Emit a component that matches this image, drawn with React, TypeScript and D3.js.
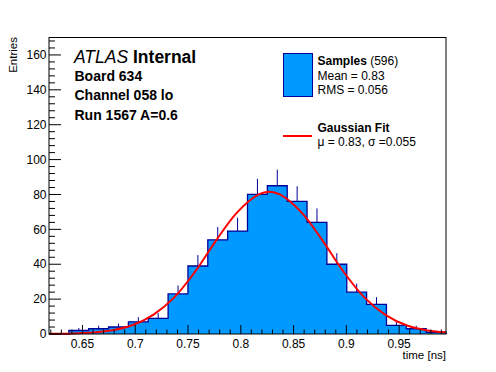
import { scaleLinear, range, area, line, curveStepAfter, curveCatmullRom } from 'd3'

// Timing histogram with a gaussian fit, ROOT/ATLAS style.
const X_MIN = 0.6183
const X_MAX = 0.9944
const Y_MAX = 170

// entries per bin, 20 equal bins over [X_MIN, X_MAX]
const binCounts = [0, 2, 3, 4, 7, 9, 23, 39, 54, 59, 80, 85, 76, 64, 40, 24, 17, 5, 3, 1]

// gaussian fit curve
const fitX = [0.6183, 0.647, 0.677, 0.697, 0.717, 0.737, 0.757, 0.777, 0.797, 0.817, 0.827, 0.837, 0.857, 0.877, 0.897, 0.917, 0.937, 0.957, 0.977, 0.9944]
const fitY = [0.1, 0.4, 2, 5, 11, 21, 36, 54, 70, 80, 81.6, 80, 70, 54, 36, 21, 11, 5, 2, 0.9]

const xMajor = [0.65, 0.7, 0.75, 0.8, 0.85, 0.9, 0.95]
const yMajor = [0, 20, 40, 60, 80, 100, 120, 140, 160]

const infoLines = ['Board 634', 'Channel 058 lo', 'Run 1567 A=0.6']

const FONT = '"Liberation Sans", Arial, Helvetica, sans-serif'
const FILL = '#0099ff'
const EDGE = '#000099'

export default function App() {
  const m = { left: 49, right: 446, top: 37.5, bottom: 334 }
  const x = scaleLinear().domain([X_MIN, X_MAX]).range([m.left, m.right])
  const y = scaleLinear().domain([0, Y_MAX]).range([m.bottom, m.top])

  const bw = (X_MAX - X_MIN) / binCounts.length
  const pts: [number, number][] = binCounts.map((c, i) => [X_MIN + i * bw, c])
  pts.push([X_MAX, binCounts[binCounts.length - 1]])

  const fillPath = area<[number, number]>()
    .x((d) => x(d[0]))
    .y0(y(0))
    .y1((d) => y(d[1]))
    .curve(curveStepAfter)(pts)

  const edgePts: [number, number][] = [[X_MIN, 0], ...pts, [X_MAX, 0]]
  const edgePath = line<[number, number]>()
    .x((d) => x(d[0]))
    .y((d) => y(d[1]))
    .curve(curveStepAfter)(edgePts)

  const fitPath = line<number>()
    .x((d) => x(d))
    .y((_, i) => y(fitY[i]))
    .curve(curveCatmullRom)(fitX)

  const yMinor = range(0, Y_MAX + 0.1, 4).filter((v) => v % 20 !== 0)
  const xMinor = range(62, 100).map((v) => v / 100).filter((v) => Math.round(v * 100) % 5 !== 0 && v <= X_MAX)

  return (
    <svg
      width={496}
      height={372}
      style={{ position: 'absolute', left: 0, top: 0, background: '#fff' }}
      fontFamily={FONT}
    >
      <rect x={0} y={0} width={496} height={372} fill="#fff" />

      {/* error bars first, the fill hides their lower half */}
      {binCounts.map((c, i) =>
        c > 0 ? (
          <line
            key={i}
            x1={x(X_MIN + (i + 0.5) * bw)}
            x2={x(X_MIN + (i + 0.5) * bw)}
            y1={y(c - Math.sqrt(c))}
            y2={y(c + Math.sqrt(c))}
            stroke={EDGE}
            strokeWidth={1}
          />
        ) : null,
      )}
      {fillPath && <path d={fillPath} fill={FILL} />}
      {edgePath && <path d={edgePath} fill="none" stroke={EDGE} strokeWidth={1.3} />}
      {fitPath && <path d={fitPath} fill="none" stroke="#ff0000" strokeWidth={2} />}

      {/* frame + ticks */}
      <rect x={m.left} y={m.top} width={m.right - m.left} height={m.bottom - m.top} fill="none" stroke="#000" strokeWidth={1} />
      {yMajor.map((v) => (
        <g key={v}>
          <line x1={m.left} x2={m.left + 12} y1={y(v)} y2={y(v)} stroke="#000" />
          <text x={46.5} y={y(v)} dy="0.35em" textAnchor="end" fontSize={12}>
            {v}
          </text>
        </g>
      ))}
      {yMinor.map((v) => (
        <line key={v} x1={m.left} x2={m.left + 6} y1={y(v)} y2={y(v)} stroke="#000" />
      ))}
      {xMajor.map((v) => (
        <g key={v}>
          <line x1={x(v)} x2={x(v)} y1={m.bottom} y2={m.bottom - 9} stroke="#000" />
          <text x={x(v)} y={347.5} textAnchor="middle" fontSize={12}>
            {v}
          </text>
        </g>
      ))}
      {xMinor.map((v) => (
        <line key={v} x1={x(v)} x2={x(v)} y1={m.bottom} y2={m.bottom - 4.5} stroke="#000" />
      ))}

      <text x={446} y={358.5} textAnchor="end" fontSize={11.5}>
        time [ns]
      </text>
      <text transform="translate(17,37) rotate(-90)" textAnchor="end" fontSize={11.5}>
        Entries
      </text>

      {/* label block */}
      <text x={74} y={62.7} fontSize={17.5}>
        <tspan fontStyle="italic">ATLAS</tspan>
        <tspan fontWeight="bold"> Internal</tspan>
      </text>
      {infoLines.map((t, i) => (
        <text key={t} x={74.5} y={81 + i * 19.3} fontSize={14} fontWeight="bold">
          {t}
        </text>
      ))}

      {/* legend */}
      <rect x={283.5} y={53.5} width={29} height={43} fill={FILL} stroke={EDGE} strokeWidth={1} />
      <text x={317.5} y={65} fontSize={12}>
        <tspan fontWeight="bold">Samples</tspan> (596)
      </text>
      <text x={317.5} y={80} fontSize={12}>
        Mean = 0.83
      </text>
      <text x={317.5} y={94} fontSize={12}>
        RMS = 0.056
      </text>
      <line x1={283} x2={312} y1={136} y2={136} stroke="#ff0000" strokeWidth={2} />
      <text x={317.5} y={132.3} fontSize={12} fontWeight="bold">
        Gaussian Fit
      </text>
      <text x={317.5} y={146} fontSize={12}>
        μ = 0.83, σ =0.055
      </text>
    </svg>
  )
}
